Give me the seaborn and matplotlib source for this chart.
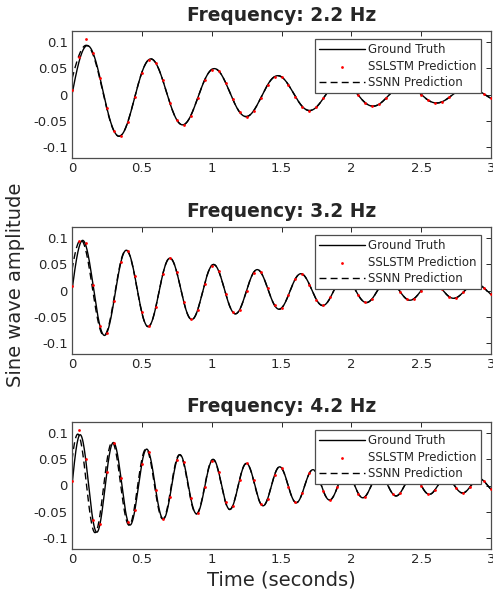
import numpy as np
import pandas as pd
import seaborn as sns
import matplotlib.pyplot as plt

# values
freqs = [2.2, 3.2, 4.2]            # Hz, from the panel titles
amplitude = 0.1                    # start amplitude of the damped sine
decay = 0.7                        # 1/s, envelope decay
ssnn_phase = [0.3, 0.4, 0.5]       # rad, SSNN phase lead at t=0
ssnn_tau = [0.1, 0.15, 0.4]        # s, how fast the SSNN lead dies out
dot_step = 0.05                    # s, spacing of SSLSTM dots
# first SSLSTM dots that sit off the curve (t = 0, 0.05, 0.1)
lstm_start = [[0.008, 0.070, 0.105],
              [0.008, 0.094, 0.090],
              [0.008, 0.104, 0.050]]
xticks = [0, 0.5, 1, 1.5, 2, 2.5, 3]
yticks = [-0.1, -0.05, 0, 0.05, 0.1]

sns.set_style("white")
plt.rcParams["font.family"] = ["DejaVu Sans"]

t = np.linspace(0, 3, 1201)
t_dots = np.arange(0, 3 + 1e-9, dot_step)


def damped(tt, f, phase=0.0):
    return amplitude * np.exp(-decay * tt) * np.sin(2 * np.pi * f * tt + phase)


fig = plt.figure(figsize=(4.93, 5.96), dpi=100)
tops = [31, 227, 422]
for i, f in enumerate(freqs):
    top = tops[i]
    ax = fig.add_axes([72 / 493, 1 - (top + 127) / 596, 419 / 493, 127 / 596])
    truth = pd.DataFrame({"t": t, "y": damped(t, f)})
    ssnn = pd.DataFrame({"t": t, "y": damped(t, f, ssnn_phase[i] * np.exp(-t / ssnn_tau[i]))})
    dots_y = damped(t_dots, f)
    dots_y[:len(lstm_start[i])] = lstm_start[i]
    dots = pd.DataFrame({"t": t_dots, "y": dots_y})

    sns.lineplot(data=truth, x="t", y="y", color="black", linewidth=1.0, ax=ax, label="Ground Truth")
    sns.scatterplot(data=dots, x="t", y="y", color="red", marker=".", s=16, linewidth=0, ax=ax,
                    label="SSLSTM Prediction", zorder=3)
    sns.lineplot(data=ssnn, x="t", y="y", color="black", linewidth=1.0, linestyle=(0, (5, 3)), ax=ax,
                 label="SSNN Prediction")

    ax.set_xlim(0, 3)
    ax.set_ylim(-0.12, 0.12)
    ax.set_xticks(xticks)
    ax.set_xticklabels(["0", "0.5", "1", "1.5", "2", "2.5", "3"])
    ax.set_yticks(yticks)
    ax.set_yticklabels(["-0.1", "-0.05", "0", "0.05", "0.1"])
    ax.tick_params(direction="in", top=True, right=True, length=3.5, width=0.7,
                   labelsize=9.5, colors="#262626", pad=3)
    for s in ax.spines.values():
        s.set_color("#4d4d4d")
        s.set_linewidth(0.9)
    ax.set_xlabel("")
    ax.set_ylabel("")
    ax.set_title(f"Frequency: {f} Hz", fontsize=13.4, fontweight="bold", pad=7)
    leg = ax.legend(loc="upper right", bbox_to_anchor=(0.976, 0.937), borderaxespad=0,
                    fontsize=8.5, frameon=True, fancybox=False, framealpha=1,
                    edgecolor="#4d4d4d", borderpad=0.35, labelspacing=0.3,
                    handlelength=3.9, handletextpad=0.25, markerscale=1.0)
    leg.get_frame().set_linewidth(0.9)
    if i == 2:
        ax.set_xlabel("Time (seconds)", fontsize=14, color="#262626", labelpad=3)

fig.text(16 / 493, 1 - 285 / 596, "Sine wave amplitude", rotation=90, fontsize=14,
         color="#262626", ha="center", va="center")

plt.savefig("out.png", dpi=100)
